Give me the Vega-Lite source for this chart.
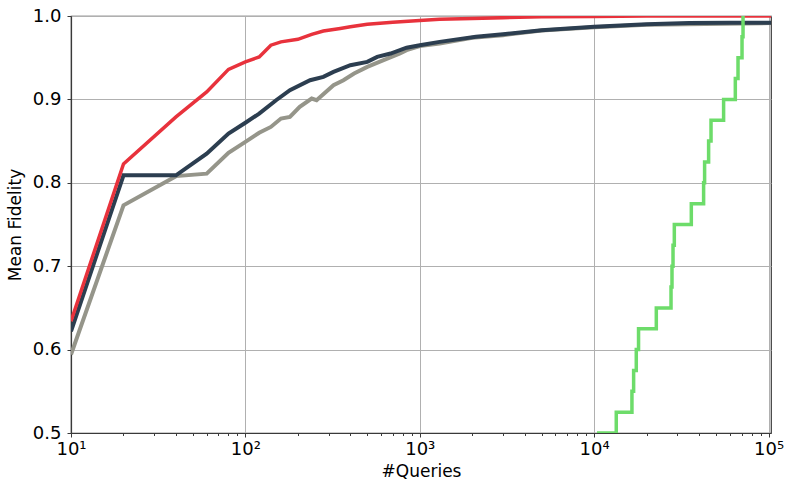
{
  "$schema": "https://vega.github.io/schema/vega-lite/v6.json",
  "width": 700,
  "height": 417,
  "autosize": {"type": "none"},
  "padding": {"left": 71, "top": 16, "right": 22, "bottom": 60},
  "background": "white",
  "config": {
    "font": "DejaVu Sans",
    "view": {"stroke": "#3a3a3a", "strokeWidth": 1.2},
    "axis": {
      "domainColor": "#3a3a3a",
      "domainWidth": 1.2,
      "tickColor": "#3a3a3a",
      "labelColor": "#000000",
      "titleColor": "#000000",
      "labelFont": "DejaVu Sans",
      "titleFont": "DejaVu Sans",
      "labelFontSize": 18,
      "titleFontSize": 17,
      "titleFontWeight": "normal",
      "gridColor": "#b0b0b0",
      "gridWidth": 1
    }
  },
  "data": {
    "values": [
      {"s": "gray", "x": 10, "y": 0.594},
      {"s": "gray", "x": 20, "y": 0.773},
      {"s": "gray", "x": 40, "y": 0.808},
      {"s": "gray", "x": 60, "y": 0.811},
      {"s": "gray", "x": 80, "y": 0.836},
      {"s": "gray", "x": 100, "y": 0.849},
      {"s": "gray", "x": 120, "y": 0.86},
      {"s": "gray", "x": 140, "y": 0.867},
      {"s": "gray", "x": 160, "y": 0.877},
      {"s": "gray", "x": 180, "y": 0.879},
      {"s": "gray", "x": 205, "y": 0.891},
      {"s": "gray", "x": 240, "y": 0.901},
      {"s": "gray", "x": 256, "y": 0.899},
      {"s": "gray", "x": 320, "y": 0.917},
      {"s": "gray", "x": 365, "y": 0.923},
      {"s": "gray", "x": 420, "y": 0.931},
      {"s": "gray", "x": 500, "y": 0.939},
      {"s": "gray", "x": 620, "y": 0.947},
      {"s": "gray", "x": 770, "y": 0.955},
      {"s": "gray", "x": 840, "y": 0.959},
      {"s": "gray", "x": 1000, "y": 0.964},
      {"s": "gray", "x": 1300, "y": 0.967},
      {"s": "gray", "x": 2000, "y": 0.974},
      {"s": "gray", "x": 3000, "y": 0.977},
      {"s": "gray", "x": 5000, "y": 0.9825},
      {"s": "gray", "x": 10000, "y": 0.9865},
      {"s": "gray", "x": 20000, "y": 0.9895},
      {"s": "gray", "x": 105000, "y": 0.9915},
      {"s": "navy", "x": 10, "y": 0.622},
      {"s": "navy", "x": 20, "y": 0.809},
      {"s": "navy", "x": 40, "y": 0.809},
      {"s": "navy", "x": 60, "y": 0.835},
      {"s": "navy", "x": 80, "y": 0.859},
      {"s": "navy", "x": 100, "y": 0.872},
      {"s": "navy", "x": 120, "y": 0.883},
      {"s": "navy", "x": 150, "y": 0.899},
      {"s": "navy", "x": 180, "y": 0.911},
      {"s": "navy", "x": 235, "y": 0.923},
      {"s": "navy", "x": 280, "y": 0.927},
      {"s": "navy", "x": 320, "y": 0.933},
      {"s": "navy", "x": 400, "y": 0.941},
      {"s": "navy", "x": 500, "y": 0.945},
      {"s": "navy", "x": 570, "y": 0.951},
      {"s": "navy", "x": 680, "y": 0.955},
      {"s": "navy", "x": 840, "y": 0.962},
      {"s": "navy", "x": 1000, "y": 0.965},
      {"s": "navy", "x": 1300, "y": 0.969},
      {"s": "navy", "x": 2100, "y": 0.975},
      {"s": "navy", "x": 3000, "y": 0.978},
      {"s": "navy", "x": 5000, "y": 0.983},
      {"s": "navy", "x": 10000, "y": 0.987},
      {"s": "navy", "x": 20000, "y": 0.99},
      {"s": "navy", "x": 35000, "y": 0.9915},
      {"s": "navy", "x": 60000, "y": 0.992},
      {"s": "navy", "x": 105000, "y": 0.992},
      {"s": "red", "x": 10, "y": 0.634},
      {"s": "red", "x": 20, "y": 0.8225},
      {"s": "red", "x": 40, "y": 0.879},
      {"s": "red", "x": 60, "y": 0.909},
      {"s": "red", "x": 80, "y": 0.936},
      {"s": "red", "x": 100, "y": 0.945},
      {"s": "red", "x": 120, "y": 0.951},
      {"s": "red", "x": 140, "y": 0.965},
      {"s": "red", "x": 160, "y": 0.969},
      {"s": "red", "x": 200, "y": 0.972},
      {"s": "red", "x": 240, "y": 0.978},
      {"s": "red", "x": 280, "y": 0.982},
      {"s": "red", "x": 350, "y": 0.985},
      {"s": "red", "x": 400, "y": 0.987},
      {"s": "red", "x": 500, "y": 0.99},
      {"s": "red", "x": 700, "y": 0.9925},
      {"s": "red", "x": 1000, "y": 0.9945},
      {"s": "red", "x": 1300, "y": 0.996},
      {"s": "red", "x": 2000, "y": 0.997},
      {"s": "red", "x": 3000, "y": 0.998},
      {"s": "red", "x": 5000, "y": 0.999},
      {"s": "red", "x": 10000, "y": 0.9995},
      {"s": "red", "x": 20000, "y": 1.0},
      {"s": "red", "x": 105000, "y": 1.0},
      {"s": "green", "x": 10380, "y": 0.5},
      {"s": "green", "x": 13390, "y": 0.525},
      {"s": "green", "x": 16470, "y": 0.55},
      {"s": "green", "x": 16840, "y": 0.575},
      {"s": "green", "x": 17440, "y": 0.6},
      {"s": "green", "x": 17970, "y": 0.625},
      {"s": "green", "x": 22720, "y": 0.65},
      {"s": "green", "x": 27590, "y": 0.675},
      {"s": "green", "x": 27950, "y": 0.7},
      {"s": "green", "x": 28330, "y": 0.725},
      {"s": "green", "x": 28820, "y": 0.75},
      {"s": "green", "x": 36070, "y": 0.775},
      {"s": "green", "x": 42430, "y": 0.8},
      {"s": "green", "x": 42990, "y": 0.825},
      {"s": "green", "x": 45330, "y": 0.85},
      {"s": "green", "x": 46790, "y": 0.875},
      {"s": "green", "x": 55250, "y": 0.9},
      {"s": "green", "x": 64490, "y": 0.925},
      {"s": "green", "x": 66830, "y": 0.95},
      {"s": "green", "x": 70460, "y": 0.975},
      {"s": "green", "x": 71400, "y": 1.0}
    ]
  },
  "encoding": {
    "x": {
      "field": "x",
      "type": "quantitative",
      "scale": {"type": "log", "domain": [10, 103300], "nice": false},
      "axis": {
        "title": "#Queries",
        "titlePadding": 5,
        "values": [10, 20, 30, 40, 50, 60, 70, 80, 90, 100, 200, 300, 400, 500, 600, 700, 800, 900, 1000, 2000, 3000, 4000, 5000, 6000, 7000, 8000, 9000, 10000, 20000, 30000, 40000, 50000, 60000, 70000, 80000, 90000, 100000],
        "labelExpr": "datum.value == 10 ? '10¹' : datum.value == 100 ? '10²' : datum.value == 1000 ? '10³' : datum.value == 10000 ? '10⁴' : datum.value == 100000 ? '10⁵' : ''",
        "labelPadding": 3,
        "labelOverlap": false,
        "labelFlush": false,
        "tickSize": {"condition": {"test": "indexof([10,100,1000,10000,100000], datum.value) >= 0", "value": 4}, "value": 2.5},
        "gridOpacity": {"condition": {"test": "indexof([10,100,1000,10000,100000], datum.value) >= 0", "value": 1}, "value": 0},
        "grid": true
      }
    },
    "y": {
      "field": "y",
      "type": "quantitative",
      "scale": {"domain": [0.5, 1.0], "nice": false, "zero": false},
      "axis": {
        "title": "Mean Fidelity",
        "values": [0.5, 0.6, 0.7, 0.8, 0.9, 1.0],
        "format": ".1f",
        "tickSize": 4,
        "labelPadding": 6,
        "titlePadding": 8,
        "grid": true
      }
    }
  },
  "layer": [
    {"transform": [{"filter": "datum.s == 'gray'"}], "mark": {"type": "line", "color": "#95958a", "strokeWidth": 4, "clip": true}},
    {"transform": [{"filter": "datum.s == 'navy'"}], "mark": {"type": "line", "color": "#2c3e50", "strokeWidth": 4, "clip": true}},
    {"transform": [{"filter": "datum.s == 'red'"}], "mark": {"type": "line", "color": "#e8323c", "strokeWidth": 3.5, "clip": true}},
    {"transform": [{"filter": "datum.s == 'green'"}], "mark": {"type": "line", "color": "#6ddc6a", "strokeWidth": 3.5, "clip": true, "interpolate": "step-after"}}
  ]
}
